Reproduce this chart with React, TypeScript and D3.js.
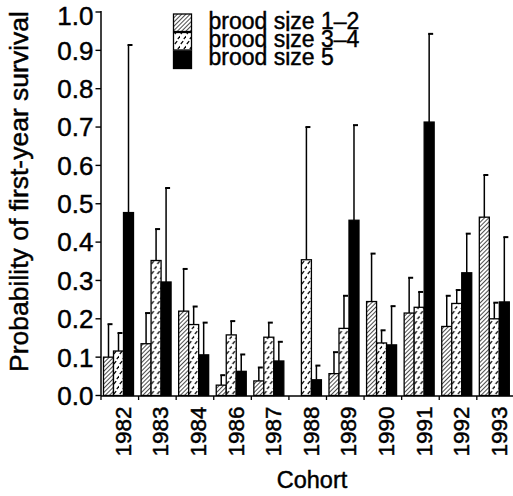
import React from "react";
import * as d3 from "d3";

const years = ["1982", "1983", "1984", "1986", "1987", "1988", "1989", "1990", "1991", "1992", "1993"];
const seriesNames = ["brood size 1–2", "brood size 3–4", "brood size 5"];
const brood12: (number | null)[] = [0.10, 0.135, 0.22, 0.027, 0.038, null, 0.057, 0.245, 0.215, 0.18, 0.465];
const err12: (number | null)[] = [0.186, 0.215, 0.33, 0.053, 0.073, null, 0.113, 0.37, 0.307, 0.26, 0.575];
const brood34: (number | null)[] = [0.116, 0.352, 0.185, 0.158, 0.152, 0.354, 0.175, 0.137, 0.23, 0.24, 0.20];
const err34: (number | null)[] = [0.163, 0.434, 0.232, 0.194, 0.19, 0.70, 0.26, 0.17, 0.27, 0.275, 0.242];
const brood5: (number | null)[] = [0.477, 0.296, 0.106, 0.063, 0.09, 0.041, 0.457, 0.132, 0.713, 0.32, 0.244];
const err5: (number | null)[] = [0.914, 0.541, 0.19, 0.107, 0.14, 0.078, 0.705, 0.233, 0.943, 0.422, 0.413];
const yTicks = [0, 0.1, 0.2, 0.3, 0.4, 0.5, 0.6, 0.7, 0.8, 0.9, 1.0];

const values = [brood12, brood34, brood5];
const errors = [err12, err34, err5];
const fills = ["url(#hatch)", "url(#dash)", "#000"];

const W = 513;
const H = 496;
const FONT = "'Liberation Sans', Arial, Helvetica, sans-serif";
const textStyle = { fontFamily: FONT, fill: "#000", stroke: "#000", strokeWidth: 0.45 };

export default function App() {
  const x0 = d3.scaleBand<string>().domain(years).range([101, 514.4]);
  const x1 = d3.scaleBand<string>().domain(seriesNames).range([2.5, 32.5]);
  const y = d3.scaleLinear().domain([0, 1]).range([395.5, 12]);
  const bw = x1.bandwidth();

  return (
    <svg width={W} height={H} style={{ position: "absolute", left: 0, top: 0, background: "#fff" }}>
      <defs>
        <pattern id="hatch" patternUnits="userSpaceOnUse" width="3" height="3" patternTransform="rotate(45)">
          <rect width="3" height="3" fill="#fff" />
          <line x1="0" y1="0" x2="0" y2="3" stroke="#000" strokeWidth="1.4" />
        </pattern>
        <pattern id="dash" patternUnits="userSpaceOnUse" width="6" height="10">
          <rect width="6" height="10" fill="#fff" />
          <line x1="0.8" y1="4" x2="3.2" y2="1.2" stroke="#000" strokeWidth="1.2" />
          <line x1="3.8" y1="9" x2="6.2" y2="6.2" stroke="#000" strokeWidth="1.2" />
        </pattern>
      </defs>

      {/* bars */}
      {years.map((yr, i) => (
        <g key={yr} transform={`translate(${x0(yr)},0)`}>
          {seriesNames.map((s, k) => {
            const v = values[k][i];
            const e = errors[k][i];
            if (v == null) return null;
            const bx = x1(s)!;
            const cx = bx + bw / 2;
            return (
              <g key={s}>
                {e != null && (
                  <g stroke="#000" strokeWidth={1.5}>
                    <line x1={cx} x2={cx} y1={y(v)} y2={y(e)} />
                    <line x1={cx - 1} x2={cx + 4} y1={y(e)} y2={y(e)} strokeWidth={2} />
                  </g>
                )}
                <rect x={bx} y={y(v)} width={bw} height={y(0) - y(v)} fill={fills[k]} stroke="#000" strokeWidth={1.3} />
              </g>
            );
          })}
        </g>
      ))}

      {/* y axis */}
      <line x1={101} x2={101} y1={11} y2={396} stroke="#000" strokeWidth={1.5} />
      {yTicks.map((t) => (
        <g key={t}>
          <line x1={95.5} x2={101} y1={y(t)} y2={y(t)} stroke="#000" strokeWidth={1.4} />
          <text x={93.5} y={Math.max(y(t), 16)} dy="0.36em" textAnchor="end" fontSize={26} style={textStyle}>
            {d3.format(".1f")(t)}
          </text>
        </g>
      ))}

      {/* x axis */}
      <line x1={101} x2={513} y1={396} y2={396} stroke="#000" strokeWidth={1.5} />
      {years.map((yr) => (
        <line key={yr} x1={x0(yr)!} x2={x0(yr)!} y1={396} y2={400} stroke="#000" strokeWidth={1.3} />
      ))}
      {years.map((yr) => (
        <text
          key={yr}
          transform={`translate(${x0(yr)! + x0.bandwidth() / 2 + 3},406.5) rotate(-90)`}
          textAnchor="end"
          dy="0.36em"
          fontSize={22.5}
          style={textStyle}
        >
          {yr}
        </text>
      ))}

      {/* axis titles */}
      <text x={312} y={488} textAnchor="middle" fontSize={23.5} style={textStyle}>
        Cohort
      </text>
      <text transform="translate(27.5,191.5) rotate(-90)" textAnchor="middle" fontSize={26.5} style={textStyle}>
        Probability of first-year survival
      </text>

      {/* legend */}
      {seriesNames.map((s, k) => (
        <g key={s}>
          <rect x={173.5} y={14 + k * 18.5} width={18} height={17.5} fill={fills[k]} stroke="#000" strokeWidth={1.3} />
          <text x={208.5} y={28.5 + k * 18.3} fontSize={23} style={textStyle}>
            {s}
          </text>
        </g>
      ))}
    </svg>
  );
}
